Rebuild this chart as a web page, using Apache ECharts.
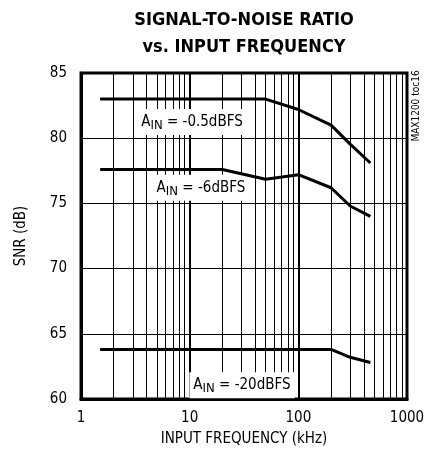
<!DOCTYPE html>
<html><head><meta charset="utf-8">
<script src="https://cdn.jsdelivr.net/npm/echarts@6/dist/echarts.min.js"></script>
<style>html,body{margin:0;padding:0;background:#fff}#c{width:437px;height:458px}</style>
</head><body><div id="c"></div>
<script>
const FONT = "'Liberation Sans Narrow','DejaVu Sans Condensed','Liberation Sans',sans-serif";
// data
const freq05 = [1.5, 50, 100, 200, 300, 460];
const snr05  = [83.0, 83.0, 82.2, 81.0, 79.55, 78.1];
const freq6  = [1.5, 20, 50, 100, 200, 300, 460];
const snr6   = [77.6, 77.6, 76.85, 77.2, 76.2, 74.8, 74.0];
const freq20 = [1.5, 200, 300, 460];
const snr20  = [63.8, 63.8, 63.2, 62.8];
const yTicks = [60, 65, 70, 75, 80, 85];
const xTicks = [1, 10, 100, 1000];
const minorX = [2,3,4,5,6,7,8,9,20,30,40,50,60,70,80,90,200,300,400,500,600,700,800,900];
const labels = [
  {text: '-0.5dBFS', at: [10.5, 81.25]},
  {text: '-6dBFS',   at: [12.7, 76.2]},
  {text: '-20dBFS',  at: [30.3, 61.05]}
];

const zip = (xs, ys) => xs.map((x, i) => [x, ys[i]]);
const rich = {
  a: {fontFamily: FONT, fontSize: 15, color: '#000'},
  s: {fontFamily: FONT, fontSize: 13, color: '#000', padding: [7, 0, 0, 0]}
};
function curve(xs, ys, lab) {
  return {
    type: 'line', data: zip(xs, ys), symbol: 'none', z: 5,
    lineStyle: {color: '#000', width: 3}, animation: false,
    markPoint: {
      symbol: 'rect', symbolSize: 0, silent: true, animation: false,
      data: [{coord: lab.at}],
      label: {
        show: true, position: 'inside',
        formatter: '{a|A}{s|IN}{a| = ' + lab.text + '}',
        backgroundColor: '#fff', padding: [3, 4, 3, 4], rich: rich
      }
    }
  };
}

const chart = echarts.init(document.getElementById('c'), null, {renderer: 'canvas'});
chart.setOption({
  animation: false,
  grid: {left: 81, top: 73, right: 30, bottom: 59, show: true, borderColor: '#000', borderWidth: 3, backgroundColor: 'transparent'},
  xAxis: {
    type: 'log', logBase: 10, min: xTicks[0], max: xTicks[xTicks.length - 1],
    name: 'INPUT FREQUENCY (kHz)', nameLocation: 'middle', nameGap: 33,
    nameTextStyle: {fontFamily: FONT, fontSize: 15, color: '#000'},
    axisLine: {show: true, lineStyle: {color: '#000', width: 3}},
    axisTick: {show: false},
    axisLabel: {fontFamily: FONT, fontSize: 15, color: '#000', margin: 12, formatter: v => String(Math.round(v))},
    splitLine: {show: true, lineStyle: {color: '#000', width: 2}}
  },
  yAxis: {
    type: 'value', min: yTicks[0], max: yTicks[yTicks.length - 1], interval: 5,
    name: 'SNR (dB)', nameLocation: 'middle', nameGap: 52,
    nameTextStyle: {fontFamily: FONT, fontSize: 15, color: '#000'},
    axisLine: {show: true, lineStyle: {color: '#000', width: 3}},
    axisTick: {show: false},
    axisLabel: {fontFamily: FONT, fontSize: 15, color: '#000', margin: 14},
    splitLine: {show: true, lineStyle: {color: '#000', width: 1}}
  },
  graphic: [
    {type: 'text', x: 244, y: 20, style: {text: 'SIGNAL-TO-NOISE RATIO', fontFamily: FONT, fontWeight: 'bold', fontSize: 18, fill: '#000', textAlign: 'center', textVerticalAlign: 'middle'}},
    {type: 'text', x: 244, y: 47, style: {text: 'vs. INPUT FREQUENCY', fontFamily: FONT, fontWeight: 'bold', fontSize: 18, fill: '#000', textAlign: 'center', textVerticalAlign: 'middle'}},
    {type: 'text', x: 416, y: 106, rotation: Math.PI / 2, style: {text: 'MAX1200 toc16', fontFamily: FONT, fontSize: 10, fill: '#000', textAlign: 'center', textVerticalAlign: 'middle'}}
  ],
  series: [
    {
      type: 'line', data: [], z: 1, silent: true,
      markLine: {
        silent: true, symbol: 'none', animation: false,
        label: {show: false},
        lineStyle: {color: '#000', width: 1, type: 'solid'},
        data: minorX.map(v => ({xAxis: v}))
      }
    },
    curve(freq05, snr05, labels[0]),
    curve(freq6, snr6, labels[1]),
    curve(freq20, snr20, labels[2])
  ]
});
</script></body></html>
